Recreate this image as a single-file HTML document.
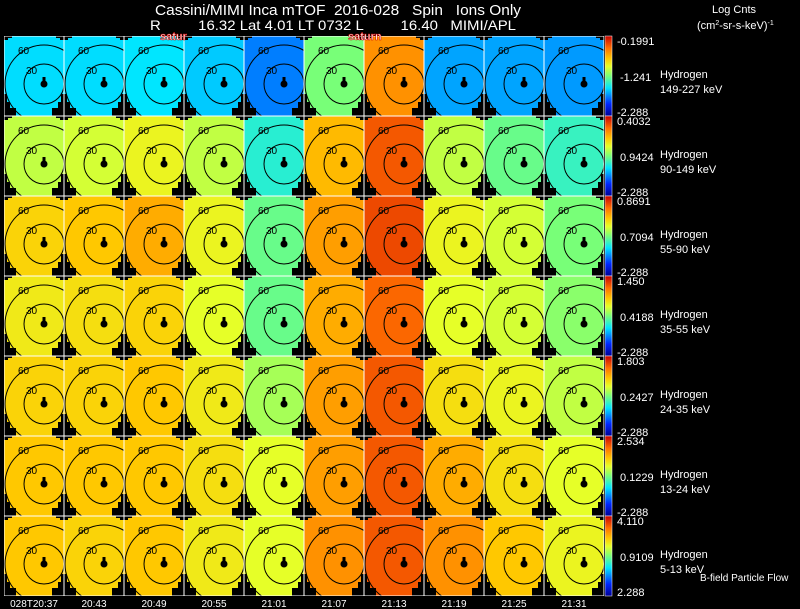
<!DOCTYPE html>
<html><head><meta charset="utf-8"><style>
html,body{margin:0;padding:0;background:#000;width:800px;height:609px;overflow:hidden}
svg text{font-family:"Liberation Sans",sans-serif;fill:#fff}
</style></head><body>
<svg id="chart" width="800" height="609" viewBox="0 0 800 609" xmlns="http://www.w3.org/2000/svg">
<rect width="800" height="609" fill="#000"/>
<text x="155" y="15" font-size="15" xml:space="preserve" textLength="366" lengthAdjust="spacingAndGlyphs">Cassini/MIMI Inca mTOF  2016-028   Spin   Ions Only</text>
<text x="150" y="30" font-size="14" xml:space="preserve" textLength="366" lengthAdjust="spacingAndGlyphs">R         16.32 Lat 4.01 LT 0732 L         16.40   MIMI/APL</text>
<text x="712" y="13" font-size="11">Log Cnts</text>
<text x="697" y="29" font-size="11">(cm<tspan font-size="7" dy="-4">2</tspan><tspan dy="4">-sr-s-keV)</tspan><tspan font-size="7" dy="-4">-1</tspan></text>
<g id="panels"></g>
<text x="160" y="40" font-size="11" font-weight="bold" stroke="#c00" stroke-width="0.6">satur</text>
<text x="348" y="40" font-size="11" font-weight="bold" stroke="#c00" stroke-width="0.6">saturn</text>
<text x="700" y="581" font-size="10">B-field Particle Flow</text>
</svg>
<script>
const times = ["028T20:37","20:43","20:49","20:55","21:01","21:07","21:13","21:19","21:25","21:31"];
const energies = ["149-227 keV","90-149 keV","55-90 keV","35-55 keV","24-35 keV","13-24 keV","5-13 keV"];
const scaleTop = ["-0.1991","0.4032","0.8691","1.450","1.803","2.534","4.110"];
const scaleMid = ["-1.241","0.9424","0.7094","0.4188","0.2427","0.1229","0.9109"];
const scaleBot = ["-2.288","-2.288","-2.288","-2.288","-2.288","-2.288","2.288"];
const level1 = [0.34,0.34,0.35,0.32,0.24,0.50,0.80,0.28,0.28,0.27];
const level2 = [0.58,0.60,0.64,0.58,0.40,0.74,0.88,0.58,0.48,0.42];
const level3 = [0.70,0.72,0.76,0.64,0.48,0.78,0.90,0.64,0.60,0.50];
const level4 = [0.66,0.68,0.70,0.62,0.48,0.76,0.86,0.62,0.60,0.52];
const level5 = [0.70,0.70,0.72,0.66,0.55,0.78,0.88,0.68,0.64,0.58];
const level6 = [0.72,0.72,0.72,0.68,0.62,0.78,0.88,0.76,0.68,0.62];
const level7 = [0.72,0.70,0.72,0.66,0.62,0.80,0.88,0.80,0.72,0.64];
const levels = [level1,level2,level3,level4,level5,level6,level7];

const NS="http://www.w3.org/2000/svg";
const X0=4, PW=60, Y0=36, PH=80;
const xCol=i=>X0+i*PW, yRow=j=>Y0+j*PH;
const stops=[[0,[0,0,150]],[.15,[0,40,255]],[.35,[0,230,255]],[.5,[120,255,120]],[.62,[230,255,40]],[.72,[255,200,0]],[.85,[255,110,0]],[1,[200,0,0]]];
function cmap(v){v=Math.max(0,Math.min(1,v));for(let k=1;k<stops.length;k++){if(v<=stops[k][0]){const a=stops[k-1],b=stops[k],t=(v-a[0])/(b[0]-a[0]);return 'rgb('+a[1].map((c,i)=>Math.round(c+(b[1][i]-c)*t)).join(',')+')';}}return 'rgb(200,0,0)';}
function mk(tag,attrs,parent){const e=document.createElementNS(NS,tag);for(const k in attrs)e.setAttribute(k,attrs[k]);parent.appendChild(e);return e;}
const g=document.getElementById('panels');
const defs=mk('defs',{},g);
const grad=mk('linearGradient',{id:'cbar',x1:0,y1:1,x2:0,y2:0},defs);
stops.forEach(s=>mk('stop',{offset:s[0],'stop-color':cmap(s[0])},grad));
const corners=[[0,0,4,4],[4,0,4,2],[52,0,4,2],[56,0,4,4],[0,66,6,14],[6,72,6,8],[54,66,6,14],[48,72,6,8],[0,58,3,8],[57,58,3,8]];
levels.forEach((row,j)=>{
  row.forEach((v,i)=>{
    const x=xCol(i),y=yRow(j);
    const cp=mk('clipPath',{id:'c'+j+'_'+i},defs);
    mk('rect',{x:x,y:y,width:PW,height:PH},cp);
    const pg=mk('g',{'clip-path':'url(#c'+j+'_'+i+')'},g);
    
    
    mk('rect',{x:x,y:y,width:PW,height:PH,fill:cmap(v)},pg);
    corners.forEach(c=>mk('rect',{x:x+c[0],y:y+c[1],width:c[2],height:c[3],fill:'#000'},pg));
    mk('circle',{cx:x+40,cy:y+48,r:39,fill:'none',stroke:'#000','stroke-width':1},pg);
    mk('circle',{cx:x+40,cy:y+48,r:20,fill:'none',stroke:'#000','stroke-width':1},pg);
    mk('ellipse',{cx:x+40,cy:y+48,rx:3.5,ry:3.5,fill:'#000'},pg);
    mk('rect',{x:x+38.5,y:y+41,width:3,height:6,fill:'#000'},pg);
    const t6=mk('text',{x:x+14,y:y+18,'font-size':10,style:'fill:#000'},pg);t6.textContent='60';
    const t3=mk('text',{x:x+22,y:y+38,'font-size':10,style:'fill:#000'},pg);t3.textContent='30';
    mk('rect',{x:x,y:y,width:PW,height:PH,fill:'none',stroke:'#fff','stroke-width':1},pg);
  });
  const y=yRow(j);
  const cb=mk('rect',{x:605,y:y,width:7,height:PH,fill:'url(#cbar)',stroke:'#fff','stroke-width':0.5},g);
  
  
  const a=mk('text',{x:617,y:y+9,'font-size':11},g);a.textContent=scaleTop[j];
  
  
  const m=mk('text',{x:620,y:y+45,'font-size':11},g);m.textContent=scaleMid[j];
  
  
  const b=mk('text',{x:617,y:y+80,'font-size':11},g);b.textContent=scaleBot[j];
  
  
  const h=mk('text',{x:660,y:y+42,'font-size':11},g);h.textContent='Hydrogen';
  
  
  const e=mk('text',{x:660,y:y+57,'font-size':11},g);e.textContent=energies[j];
  
  
});
times.forEach((t,i)=>{
  const tx=mk('text',{x:xCol(i)+PW/2,y:607,'font-size':10,'text-anchor':'middle'},g);
  tx.textContent=t;
  
  
});
</script>
</body></html>
